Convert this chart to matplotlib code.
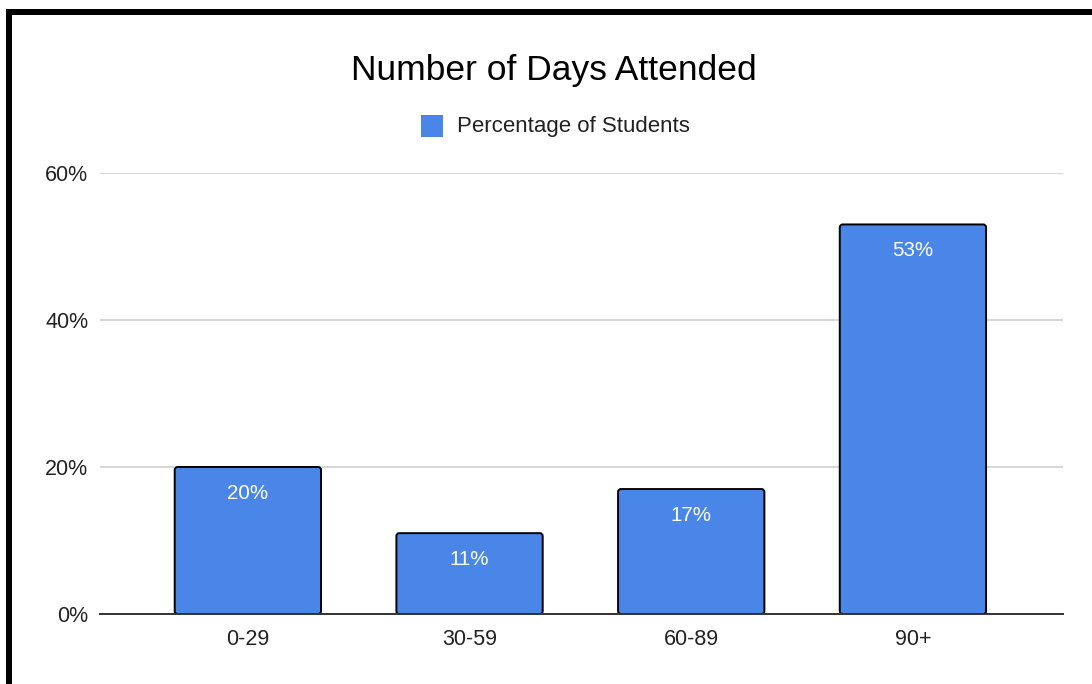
import matplotlib

matplotlib.use("Agg")
import matplotlib.pyplot as plt
from matplotlib.patches import FancyBboxPatch, Rectangle

categories = ["0-29", "30-59", "60-89", "90+"]
percentages = [20, 11, 17, 53]
y_ticks = [0, 20, 40, 60]
series_name = "Percentage of Students"
title = "Number of Days Attended"

BLUE = "#4a86e8"
W, H = 1092, 684

plt.rcParams["font.family"] = ["Liberation Sans", "DejaVu Sans"]

fig = plt.figure(figsize=(W / 100, H / 100), dpi=100)
ax = fig.add_axes([100 / W, 1 - 614 / H, (1063 - 100) / W, (614 - 173) / H])

x = list(range(len(categories)))
bars = ax.bar(x, percentages, width=0.66, color=BLUE)

# swap plain rectangles for slightly rounded ones
x_per_px = (3.677 + 0.667) / (1063 - 100)
y_per_px = 60 / (614 - 173)
for b in bars:
    bx, by, bw, bh = b.get_x(), b.get_y(), b.get_width(), b.get_height()
    b.set_visible(False)
    patch = FancyBboxPatch(
        (bx, by), bw, bh,
        boxstyle=f"round,pad=0,rounding_size={3 * x_per_px}",
        mutation_aspect=y_per_px / x_per_px,
        facecolor=BLUE, edgecolor="black", linewidth=1.4, zorder=3,
    )
    ax.add_patch(patch)

for xi, v in zip(x, percentages):
    ax.annotate(f"{v}%", (xi, v), xytext=(0, -19), textcoords="offset points",
                ha="center", va="center", color="white", fontsize=14.8, zorder=4)

ax.set_xlim(-0.667, 3.677)
ax.set_ylim(0, 60)
ax.set_yticks(y_ticks)
ax.set_yticklabels([f"{t}%" for t in y_ticks])
ax.set_xticks(x)
ax.set_xticklabels(categories)
ax.tick_params(length=0, labelsize=15.5, colors="#222222", pad=11)
ax.tick_params(axis="y", pad=8.5)
ax.grid(axis="y", color="#cccccc", linewidth=1.1)
ax.set_axisbelow(True)
for side in ["top", "right", "left"]:
    ax.spines[side].set_visible(False)
ax.spines["bottom"].set_color("#333333")
ax.spines["bottom"].set_linewidth(1.4)
ax.spines["bottom"].set_zorder(5)

fig.text(554 / W, 1 - 80 / H, title, ha="center", va="baseline", fontsize=25.5, color="black")

# legend
fig.add_artist(Rectangle((421 / W, 1 - 137 / H), 22 / W, 22 / H, transform=fig.transFigure,
                         facecolor=BLUE, edgecolor="none"))
fig.text(457 / W, 1 - 132 / H, series_name, ha="left", va="baseline", fontsize=16, color="#222222")

# black frame on top and left
fig.add_artist(Rectangle((6 / W, 1 - 15 / H), 1 - 6 / W, 6 / H, transform=fig.transFigure,
                         facecolor="black", edgecolor="none"))
fig.add_artist(Rectangle((6 / W, 0), 6 / W, 1 - 9 / H, transform=fig.transFigure,
                         facecolor="black", edgecolor="none"))

fig.savefig("out.png", dpi=100)
